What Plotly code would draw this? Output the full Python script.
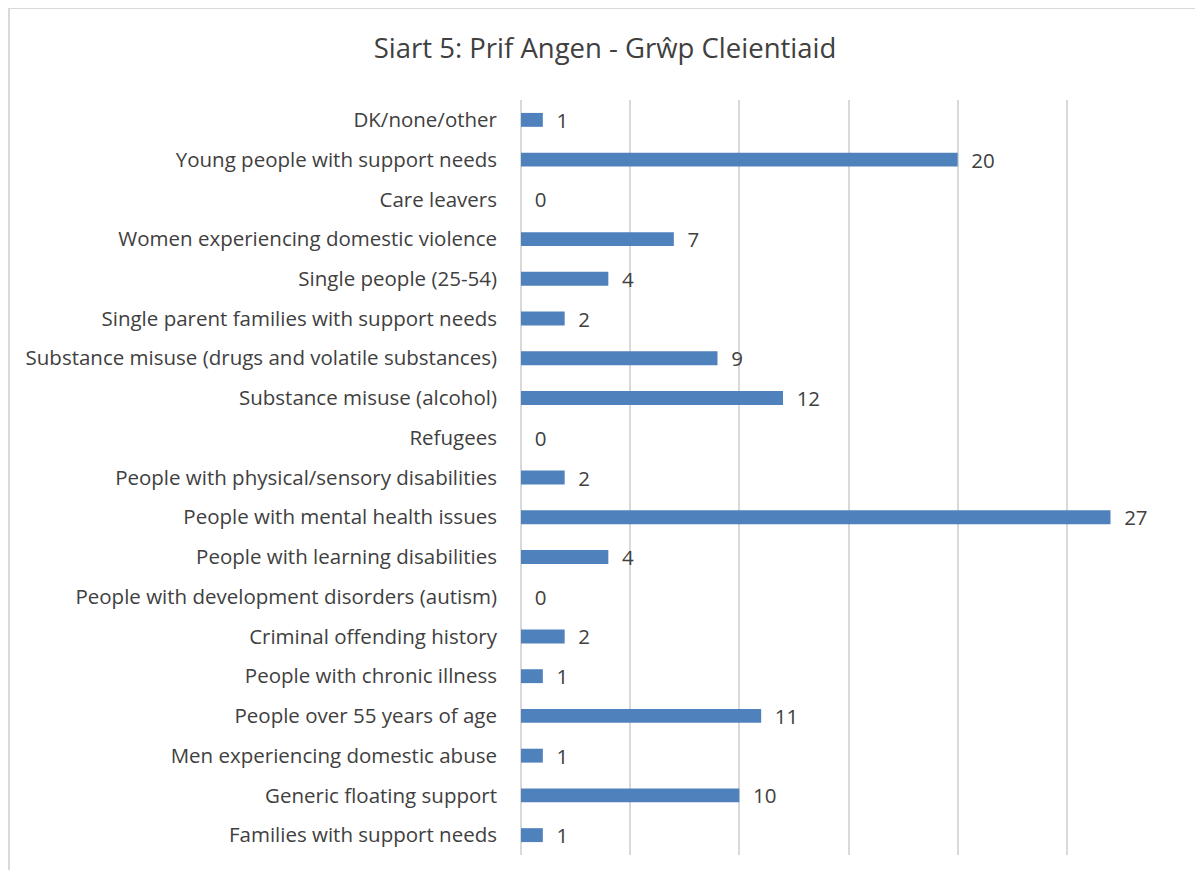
import plotly.graph_objects as go

categories = [
    "DK/none/other",
    "Young people with support needs",
    "Care leavers",
    "Women experiencing domestic violence",
    "Single people (25-54)",
    "Single parent families with support needs",
    "Substance misuse (drugs and volatile substances)",
    "Substance misuse (alcohol)",
    "Refugees",
    "People with physical/sensory disabilities",
    "People with mental health issues",
    "People with learning disabilities",
    "People with development disorders (autism)",
    "Criminal offending history",
    "People with chronic illness",
    "People over 55 years of age",
    "Men experiencing domestic abuse",
    "Generic floating support",
    "Families with support needs",
]
values = [1, 20, 0, 7, 4, 2, 9, 12, 0, 2, 27, 4, 0, 2, 1, 11, 1, 10, 1]

# page has an 8px body margin, so the figure itself starts at (8, 8)
W, H = 1187, 862
left, right, top, bottom = 513, 1168, 92, 847

fig = go.Figure(
    go.Bar(
        x=values,
        y=categories,
        orientation="h",
        marker=dict(color="#4F81BD", line=dict(width=0)),
        text=values,
        texttemplate="  %{x}",
        textposition="outside",
        constraintext="none",
        cliponaxis=False,
        textfont=dict(size=20.5, color="#404040", family="Open Sans"),
    )
)

fig.update_layout(
    width=W,
    height=H,
    margin=dict(l=left, r=W - right, t=top, b=H - bottom),
    paper_bgcolor="white",
    plot_bgcolor="white",
    font=dict(family="Open Sans", color="#404040", size=20.5),
    title=dict(
        text="Siart 5: Prif Angen - Grŵp Cleientiaid",
        x=597 / W,
        xanchor="center",
        y=1 - 40 / H,
        yanchor="middle",
        font=dict(size=27.5, color="#404040"),
    ),
    bargap=0.65,
    showlegend=False,
)
fig.update_xaxes(
    range=[0, 30],
    dtick=5,
    showticklabels=False,
    showgrid=True,
    gridcolor="#d9d9d9",
    gridwidth=2,
    zeroline=True,
    zerolinecolor="#d9d9d9",
    zerolinewidth=2,
    showline=False,
    fixedrange=True,
)
fig.update_yaxes(
    autorange="reversed",
    showgrid=False,
    showline=False,
    ticks="",
    ticklabelstandoff=23,
    tickfont=dict(size=20.5, color="#404040"),
)

# chart frame: only its left and top edges show in the reference
pw, ph = right - left, bottom - top
frame = dict(type="line", xref="paper", yref="paper", line=dict(color="#d9d9d9", width=2), layer="below")
fig.add_shape(frame, x0=(1 - left) / pw, x1=(1 - left) / pw, y0=(bottom - H) / ph, y1=(bottom - 0) / ph)
fig.add_shape(frame, x0=(1 - left) / pw, x1=(W - left) / pw, y0=(bottom - 0) / ph, y1=(bottom - 0) / ph)

fig.write_html("out.html")
